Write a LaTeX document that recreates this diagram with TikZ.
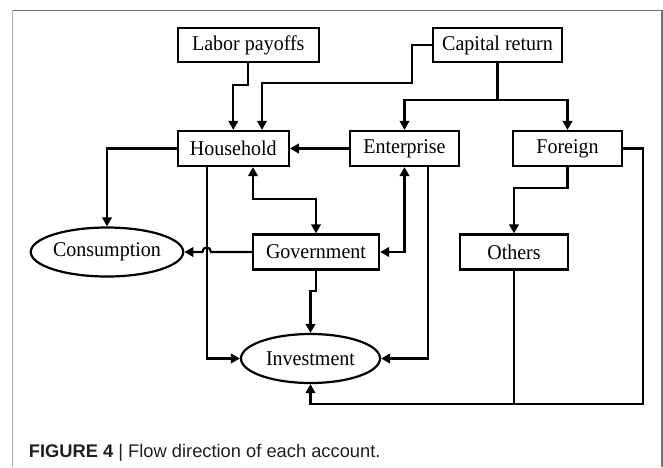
\documentclass[tikz,border=0pt]{standalone}
\usepackage{fontspec}
\usepackage{graphicx}
\setmainfont{Liberation Serif}
\newfontfamily\capfont{Liberation Sans}
\usetikzlibrary{arrows.meta,shapes.geometric,calc}
\newcommand{\lbl}[1]{\scalebox{1}[1.05]{#1}}
\tikzset{
  box/.style={draw=black, line width=2.2pt, rectangle, inner sep=0pt, minimum height=35pt, font=\fontsize{20}{24}\selectfont},
  oval/.style={draw=black, line width=2.2pt, ellipse, inner sep=0pt, font=\fontsize{20}{24}\selectfont},
  conn/.style={line width=2.2pt, -{Triangle[length=9pt,width=9.5pt]}},
  conn2/.style={line width=2.2pt, {Triangle[length=9pt,width=9.5pt]}-{Triangle[length=9pt,width=9.5pt]}},
  plain/.style={line width=2.2pt},
}
\begin{document}
\begin{tikzpicture}[x=1pt,y=-1pt]
\useasboundingbox (0,0) rectangle (663,467);
% frame
\draw[line width=1.4pt, color=black!30] (12.7,467) -- (12.7,10.3);
\draw[line width=1.4pt, color=black!55] (12.7,10.3) -- (662,10.3) -- (662,467);

% nodes
\node[box, minimum width=141pt, minimum height=34pt] (lab) at (248.3,45) {\lbl{Labor payoffs}};
\node[box, minimum width=129pt, minimum height=34pt] (cap) at (497.5,45) {\lbl{Capital return}};
\node[box, minimum width=111pt] (hh) at (233.3,148.5) {\lbl{Household}};
\node[box, minimum width=109pt] (ent) at (404.5,148.5) {\lbl{Enterprise}};
\node[box, minimum width=109pt] (for) at (567.5,148.5) {\lbl{Foreign}};
\node[box, minimum width=126pt] (gov) at (316,252) {\lbl{Government}};
\node[box, minimum width=108pt] (oth) at (514,252) {\lbl{Others}};
\node[oval, minimum width=151pt, minimum height=49pt] (con) at (107,252) {\lbl{Consumption}};
\node[oval, minimum width=139pt, minimum height=49pt] (inv) at (310.5,358.5) {\lbl{Investment}};

% connectors
\draw[conn] (lab.south) -- ++(0,22) -| (hh.north);
\draw[conn] (cap.west) -| (412,83) -| ([xshift=28.7pt]hh.north);
\draw[plain] (cap.south) -- ++(0,37) coordinate (br);
\draw[conn] (br) -| (ent.north);
\draw[conn] (br) -| (for.north);
\draw[conn] (ent.west) -- (hh.east);
\draw[conn] (hh.west) -| (con.north);
\draw[conn] ([xshift=-26.3pt]hh.south) |- (inv.west);
\draw[conn2] ([xshift=19.7pt]hh.south) -- ++(0,32) -| (gov.north);
\draw[conn2] (ent.south) |- (gov.east);
\draw[conn] ([xshift=23.5pt]ent.south) |- (inv.east);
\draw[conn] (gov.west) -- (211,252) .. controls (211,246) and (202.4,246) .. (202.4,252) -- (con.east);
\draw[conn] (gov.south) -- ++(0,20.5) -| (inv.north);
\draw[conn] (for.south) -- ++(0,21) -| (oth.north);
\coordinate (fbot) at (643,404);
\draw[conn] (oth.south) |- (inv.south |- fbot) -- (inv.south);
\draw[plain] (for.east) -| (fbot) -- (oth.south |- fbot);

% caption
\node[anchor=base west, inner sep=0pt, text=black!88] (capt) at (28.7,457)
  {\capfont\fontsize{18.3}{20}\selectfont\textbf{FIGURE 4} | Flow direction of each account.};
\end{tikzpicture}
\end{document}
